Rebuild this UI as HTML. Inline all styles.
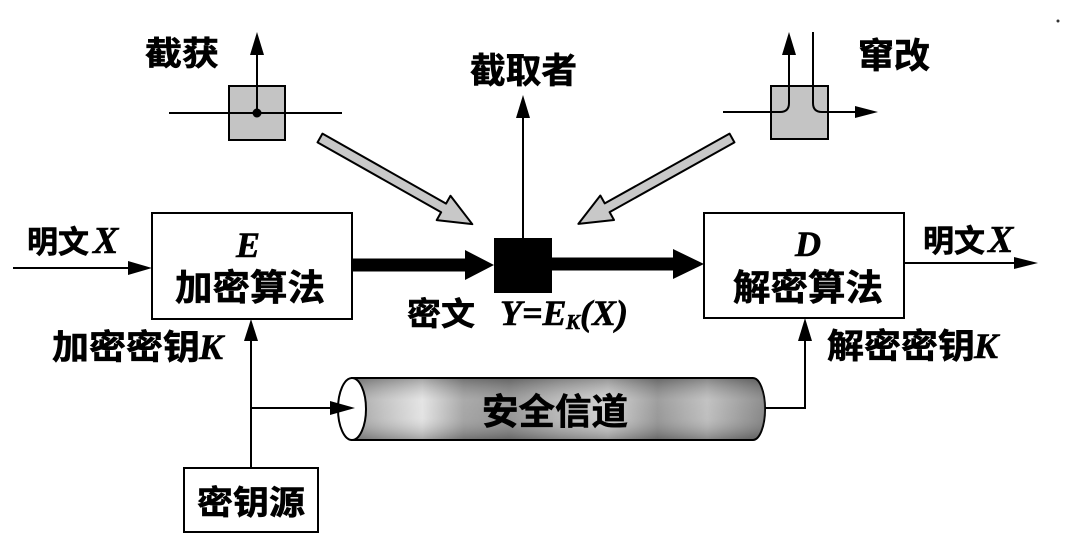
<!DOCTYPE html>
<html><head><meta charset="utf-8"><style>
html,body{margin:0;padding:0;background:#fff;}
svg{display:block;}
.cjk{font-family:"Liberation Sans","Noto Sans CJK SC","WenQuanYi Zen Hei",sans-serif;font-weight:bold;fill:#000;stroke:#000;stroke-width:0.6;}
.it{font-family:"Liberation Serif",serif;font-style:italic;font-weight:bold;fill:#000;stroke:#000;stroke-width:0.6;}
</style></head><body>
<svg width="1088" height="555" viewBox="0 0 1088 555" xmlns="http://www.w3.org/2000/svg">
<defs>
<linearGradient id="gh" x1="0" y1="0" x2="1" y2="0">
<stop offset="0" stop-color="#9a9a9a"/>
<stop offset="0.08" stop-color="#bdbdbd"/>
<stop offset="0.17" stop-color="#e0e0e0"/>
<stop offset="0.27" stop-color="#9c9c9c"/>
<stop offset="0.38" stop-color="#8a8a8a"/>
<stop offset="0.5" stop-color="#b0b0b0"/>
<stop offset="0.62" stop-color="#cccccc"/>
<stop offset="0.74" stop-color="#8e8e8e"/>
<stop offset="0.86" stop-color="#b8b8b8"/>
<stop offset="1" stop-color="#7a7a7a"/>
</linearGradient>
<linearGradient id="gv" x1="0" y1="0" x2="0" y2="1">
<stop offset="0" stop-color="#000" stop-opacity="0.25"/>
<stop offset="0.35" stop-color="#fff" stop-opacity="0.15"/>
<stop offset="0.65" stop-color="#fff" stop-opacity="0.1"/>
<stop offset="1" stop-color="#000" stop-opacity="0.25"/>
</linearGradient>
</defs>

<!-- 截获 -->
<rect x="229" y="86" width="56" height="54" fill="#c4c4c4" stroke="#000" stroke-width="2"/>
<line x1="169" y1="113" x2="342" y2="113" stroke="#000" stroke-width="2"/>
<line x1="257" y1="113" x2="257" y2="52" stroke="#000" stroke-width="2"/>
<polygon points="250,55 257,32 264,55" fill="#000"/>
<circle cx="257" cy="113" r="4.5" fill="#000"/>
<text class="cjk" x="145" y="65" font-size="33" textLength="74" lengthAdjust="spacingAndGlyphs">截获</text>

<!-- 截取者 -->
<text class="cjk" x="470" y="83" font-size="35" textLength="107" lengthAdjust="spacingAndGlyphs">截取者</text>
<line x1="523" y1="238" x2="523" y2="115" stroke="#000" stroke-width="2"/>
<polygon points="516,118 523,95 530,118" fill="#000"/>

<!-- 窜改 -->
<rect x="771" y="86" width="57" height="53" fill="#c4c4c4" stroke="#000" stroke-width="2"/>
<path d="M723,112 H780 Q789,112 789,103 V52" fill="none" stroke="#000" stroke-width="2"/>
<polygon points="782,55 789,32 796,55" fill="#000"/>
<path d="M813,32 V103 Q813,112 822,112 H857" fill="none" stroke="#000" stroke-width="2"/>
<polygon points="855,106 878,112 855,118" fill="#000"/>
<text class="cjk" x="858" y="68" font-size="35" textLength="72" lengthAdjust="spacingAndGlyphs">窜改</text>

<!-- hollow arrows -->
<polygon transform="translate(320,138) rotate(29.5)" points="0,-5 142,-5 142,-14 175,0 142,14 142,5 0,5" fill="#c8c8c8" stroke="#000" stroke-width="2" stroke-linejoin="round"/>
<polygon transform="translate(732,138) rotate(150.8)" points="0,-5 143,-5 143,-14 176,0 143,14 143,5 0,5" fill="#c8c8c8" stroke="#000" stroke-width="2" stroke-linejoin="round"/>

<!-- input -->
<text class="cjk" x="27" y="253" font-size="31" textLength="62" lengthAdjust="spacingAndGlyphs">明文</text>
<text class="it" x="93" y="253" font-size="38">X</text>
<line x1="13" y1="268" x2="132" y2="268" stroke="#000" stroke-width="2"/>
<polygon points="128,261 152,268 128,275" fill="#000"/>

<!-- E box -->
<rect x="152" y="213" width="200" height="106" fill="#fff" stroke="#000" stroke-width="2"/>
<text class="it" x="248" y="257" font-size="36" text-anchor="middle">E</text>
<text class="cjk" x="175" y="300" font-size="36" textLength="150" lengthAdjust="spacingAndGlyphs">加密算法</text>

<!-- thick arrows & black box -->
<line x1="352" y1="265" x2="468" y2="265" stroke="#000" stroke-width="13"/>
<polygon points="465,250 494,265 465,280" fill="#000"/>
<rect x="494" y="238" width="58" height="55" fill="#000"/>
<line x1="552" y1="264" x2="676" y2="264" stroke="#000" stroke-width="13"/>
<polygon points="673,249 704,264 673,279" fill="#000"/>

<!-- 密文 label -->
<text class="cjk" x="407" y="325" font-size="32" textLength="68" lengthAdjust="spacingAndGlyphs">密文</text>
<text class="it" x="500" y="325" font-size="36">Y=E</text>
<text class="it" x="566" y="329" font-size="21">K</text>
<text class="it" x="580" y="325" font-size="36">(X)</text>

<!-- D box -->
<rect x="704" y="213" width="200" height="105" fill="#fff" stroke="#000" stroke-width="2"/>
<text class="it" x="808" y="256" font-size="36" text-anchor="middle">D</text>
<text class="cjk" x="733" y="300" font-size="36" textLength="150" lengthAdjust="spacingAndGlyphs">解密算法</text>

<!-- output -->
<line x1="904" y1="263" x2="1017" y2="263" stroke="#000" stroke-width="2"/>
<polygon points="1014,257 1038,263 1014,269" fill="#000"/>
<text class="cjk" x="923" y="252" font-size="31" textLength="62" lengthAdjust="spacingAndGlyphs">明文</text>
<text class="it" x="988" y="252" font-size="38">X</text>

<!-- key labels -->
<text class="cjk" x="52" y="359" font-size="34" textLength="148" lengthAdjust="spacingAndGlyphs">加密密钥</text>
<text class="it" x="199" y="359" font-size="36">K</text>
<text class="cjk" x="827" y="358" font-size="34" textLength="148" lengthAdjust="spacingAndGlyphs">解密密钥</text>
<text class="it" x="974" y="358" font-size="36">K</text>

<!-- key connectors -->
<line x1="251" y1="468" x2="251" y2="338" stroke="#000" stroke-width="2"/>
<polygon points="244,341 251,319 258,341" fill="#000"/>
<line x1="251" y1="408" x2="333" y2="408" stroke="#000" stroke-width="2"/>
<path d="M765,408 H805 V338" fill="none" stroke="#000" stroke-width="2"/>
<polygon points="798,341 805,318 812,341" fill="#000"/>

<!-- cylinder -->
<path d="M352,378 L753,378 A12,31 0 0 1 753,440 L352,440 Z" fill="url(#gh)" stroke="#000" stroke-width="2"/>
<path d="M352,379 L753,379 A12,30 0 0 1 753,439 L352,439 Z" fill="url(#gv)"/>
<ellipse cx="352" cy="409" rx="14" ry="31" fill="#fff" stroke="#000" stroke-width="2"/>
<polygon points="330,401 355,408 330,415" fill="#000"/>
<text class="cjk" x="482" y="424" font-size="36" textLength="146" lengthAdjust="spacingAndGlyphs">安全信道</text>

<!-- key source -->
<rect x="184" y="468" width="134" height="64" fill="#fff" stroke="#000" stroke-width="2"/>
<text class="cjk" x="197" y="514" font-size="33" textLength="108" lengthAdjust="spacingAndGlyphs">密钥源</text>

<circle cx="1058" cy="21" r="1.5" fill="#333"/>
</svg>
</body></html>
